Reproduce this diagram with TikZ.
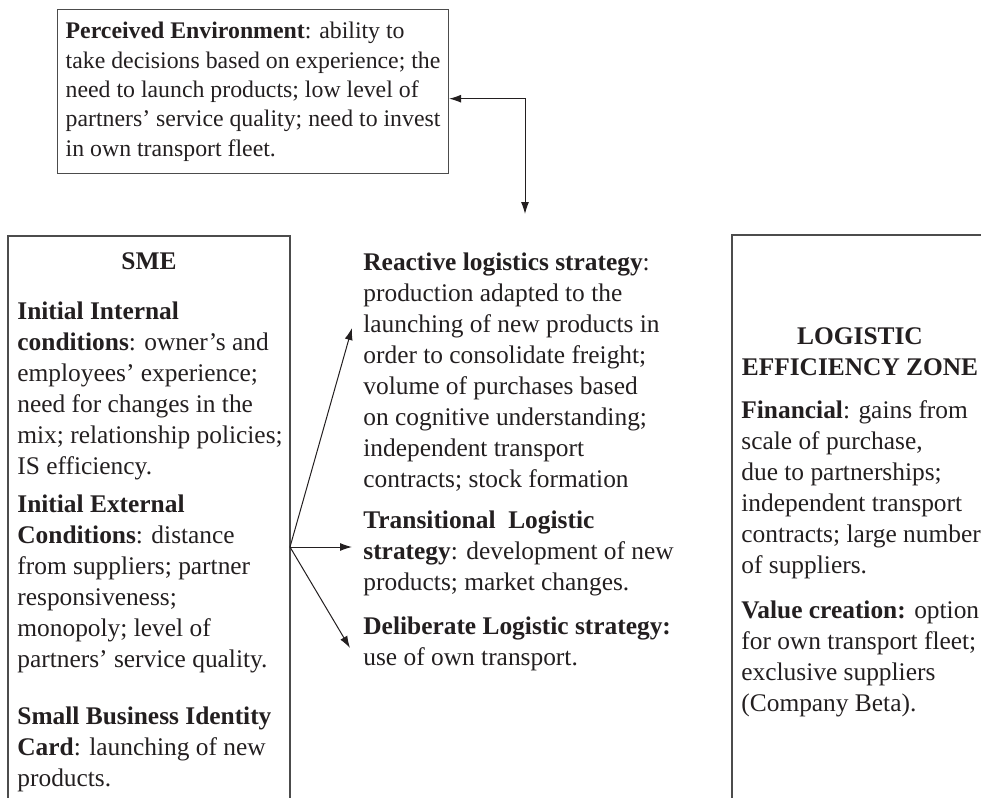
\documentclass[tikz,border=0pt]{standalone}
\usepackage{fontspec}
\setmainfont{Liberation Serif}
\usepackage{xcolor}
\usetikzlibrary{arrows.meta}
\definecolor{ink}{HTML}{231F20}
\tikzset{
  txt/.style={anchor=north west, align=left, inner sep=0pt, text=ink,
    font=\fontsize{12.7}{15.5}\selectfont},
  head/.style={txt, anchor=north, align=center},
  frame/.style={draw=black!70, line width=0.7pt},
  conn/.style={-{Latex[length=6pt,width=4pt]}, line width=0.5pt, draw=ink}
}

\begin{document}
\begin{tikzpicture}[x=0.5pt,y=-0.5pt]
\useasboundingbox (0,0) rectangle (981,798);

\node[txt,frame,font=\fontsize{11.9}{14.7}\selectfont,inner xsep=4pt,minimum width=195pt,minimum height=82pt] (perceived) at (57,9)
  {\textbf{Perceived Environment}: ability to\\
   take decisions based on experience; the\\
   need to launch products; low level of\\
   partners' service quality; need to invest\\
   in own transport fleet.};
\coordinate (envtip) at (525,214);
\draw[conn,{Latex[length=6pt,width=4pt]}-{Latex[length=6pt,width=4pt]}] (envtip) |- ([yshift=-3.5pt]perceived.east);

\draw[frame] (8,798) |- (290,236) -- (290,798);
\node[head] (sme) at (149,252) {\textbf{SME}};
\node[txt] (internal) at (17,301)
  {\textbf{Initial Internal}\\
   \textbf{conditions}: owner's and\\
   employees' experience;\\
   need for changes in the\\
   mix; relationship policies;\\
   IS efficiency.};
\node[txt] (external) at (17,494)
  {\textbf{Initial External}\\
   \textbf{Conditions}: distance\\
   from suppliers; partner\\
   responsiveness;\\
   monopoly; level of\\
   partners' service quality.};
\node[txt] (identity) at (17,706)
  {\textbf{Small Business Identity}\\
   \textbf{Card}: launching of new\\
   products.};

\node[txt] (reactive) at (363,252)
  {\textbf{Reactive logistics strategy}:\\
   production adapted to the\\
   launching of new products in\\
   order to consolidate freight;\\
   volume of purchases based\\
   on cognitive understanding;\\
   independent transport\\
   contracts; stock formation};
\node[txt] (transitional) at (363,510)
  {\textbf{Transitional\ \ Logistic}\\
   \textbf{strategy}: development of new\\
   products; market changes.};
\node[txt] (deliberate) at (363,616)
  {\textbf{Deliberate Logistic strategy:}\\
   use of own transport.};

\coordinate (fork) at (290,547);
\draw[conn] (fork) -- ([shift={(-11,76)}]reactive.north west);
\draw[conn] (fork) -- ([shift={(-11,37)}]transitional.north west);
\draw[conn] (fork) -- ([shift={(-13,32)}]deliberate.north west);

\draw[frame] (981,235) -- (732,235) -- (732,798);
\node[head] (zone) at (860,327) {\textbf{LOGISTIC}\\\textbf{EFFICIENCY ZONE}};
\node[txt] (financial) at (741,400)
  {\textbf{Financial}: gains from\\
   scale of purchase,\\
   due to partnerships;\\
   independent transport\\
   contracts; large number\\
   of suppliers.};
\node[txt] (value) at (741,600)
  {\textbf{Value creation:} option\\
   for own transport fleet;\\
   exclusive suppliers\\
   (Company Beta).};
\end{tikzpicture}
\end{document}
